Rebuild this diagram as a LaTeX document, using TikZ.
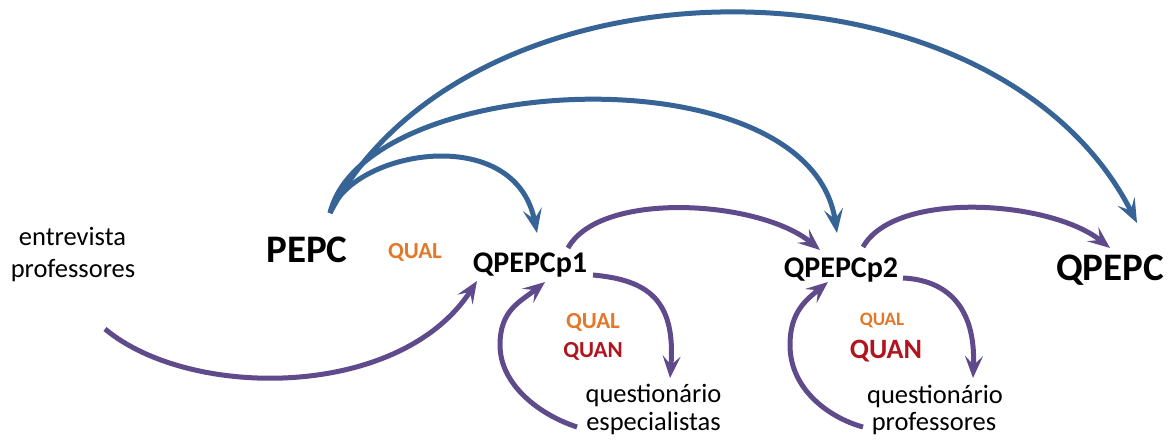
\documentclass[tikz,border=0pt]{standalone}
\usepackage{fontspec}
\setmainfont{Carlito}
\usetikzlibrary{arrows.meta}
\definecolor{arcblue}{RGB}{55,100,150}
\definecolor{arcpurple}{RGB}{95,75,140}
\definecolor{qualorange}{RGB}{226,120,40}
\definecolor{quanred}{RGB}{176,20,30}
\tikzset{
  bluearc/.style={draw=arcblue, line width=5pt,
    -{Stealth[length=24pt, width=19pt, inset=10pt]}},
  purplearc/.style={draw=arcpurple, line width=5pt,
    -{Stealth[length=22pt, width=18pt, inset=9pt]}},
  plain/.style={inner sep=0pt, anchor=base, font=\fontsize{26.5}{32}\selectfont},
  stage/.style={inner sep=0pt, anchor=base, font=\bfseries\fontsize{30}{36}\selectfont},
  bigstage/.style={inner sep=0pt, anchor=base, font=\bfseries\fontsize{39}{46}\selectfont},
  qualtag/.style={inner sep=0pt, anchor=base, text=qualorange, font=\bfseries\fontsize{#1}{#1}\selectfont},
  quantag/.style={inner sep=0pt, anchor=base, text=quanred, font=\bfseries\fontsize{#1}{#1}\selectfont}
}
\begin{document}
\begin{tikzpicture}[x=1pt, y=-1pt]
\useasboundingbox (0,0) rectangle (1175,439);

% texts
\node[plain] (entA) at (72.5,245) {entrevista};
\node[plain] (entB) at (73,277) {professores};
\node[bigstage] (pepc) at (307,262) {PEPC};
\node[qualtag=23] (qual1) at (415,258) {QUAL};
\node[stage] (qp1) at (530,272) {QPEPCp1};
\node[qualtag=23] (qual2) at (593,328) {QUAL};
\node[quantag=23] (quan2) at (593,357) {QUAN};
\node[plain] (questA) at (653.5,402) {questionário};
\node[plain] (questB) at (653.5,430) {especialistas};
\node[stage] (qp2) at (841,277) {QPEPCp2};
\node[bigstage] (qpepc) at (1110,280) {QPEPC};
\node[qualtag=19] (qual3) at (882,325) {QUAL};
\node[quantag=28] (quan3) at (886,358) {QUAN};
\node[plain] (questC) at (935,403) {questionário};
\node[plain] (questD) at (934,430) {professores};

% connector ends
\coordinate (pepcTop) at (330,213);
\coordinate (p1Top) at (537,233);
\coordinate (p2Top) at (837,233);
\coordinate (qTop) at (1137,223);
\coordinate (entOut) at (105,329);
\coordinate (p1Left) at (477,281);
\coordinate (p1Out) at (568,248);
\coordinate (p2In) at (820,250);
\coordinate (p2Out) at (863,247);
\coordinate (qIn) at (1110,248);
\coordinate (p1Right) at (593,275);
\coordinate (questAIn) at (670,378);
\coordinate (questBOut) at (577,427);
\coordinate (p1Low) at (545,282);
\coordinate (p2Right) at (903,278);
\coordinate (questCIn) at (973,378);
\coordinate (questDOut) at (863,427);
\coordinate (p2Low) at (828,282);

% PEPC to the later stages
\draw[bluearc] (pepcTop) .. controls (352,150) and (515,122) .. (p1Top);
\draw[bluearc] (pepcTop) .. controls (365,70) and (810,50) .. (p2Top);
\draw[bluearc] (pepcTop) .. controls (470,-55) and (996,-55) .. (qTop);

% interview feeding QPEPCp1
\draw[purplearc] (entOut) .. controls (190,400) and (400,400) .. (p1Left);

% stage to stage
\draw[purplearc] (p1Out) .. controls (600,190) and (760,200) .. (p2In);
\draw[purplearc] (p2Out) .. controls (895,190) and (1050,200) .. (qIn);

% questionnaire loops
\draw[purplearc] (p1Right) .. controls (648,280) and (676,300) .. (questAIn);
\draw[purplearc] (questBOut) .. controls (540,415) and (500,385) .. (500,345)
  .. controls (500,310) and (520,302) .. (p1Low);
\draw[purplearc] (p2Right) .. controls (945,280) and (976,305) .. (questCIn);
\draw[purplearc] (questDOut) .. controls (830,418) and (790,390) .. (790,345)
  .. controls (790,312) and (806,300) .. (p2Low);
\end{tikzpicture}
\end{document}
